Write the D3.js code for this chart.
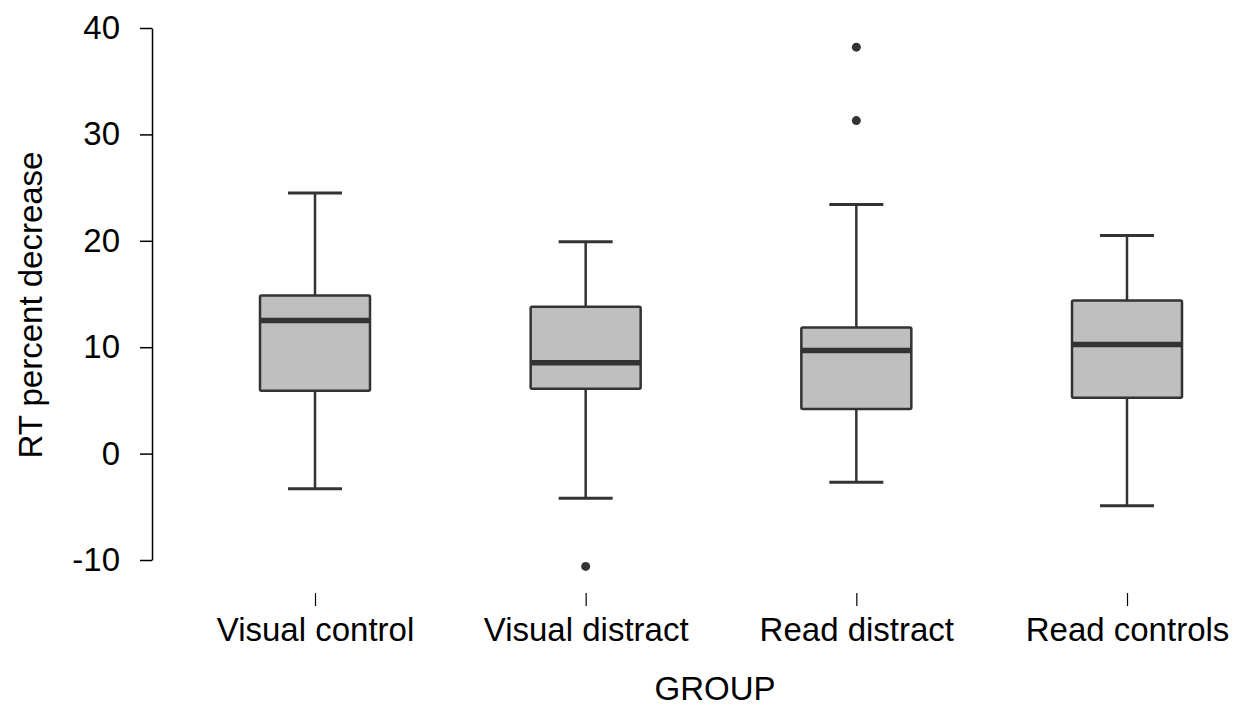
<!DOCTYPE html>
<html>
<head>
<meta charset="utf-8">
<script src="https://cdn.jsdelivr.net/npm/d3@7"></script>
<style>
	body{ margin: 0; background: #fff; }
	svg text{ font-family: "Liberation Sans", Arial, sans-serif; fill: #000; }
</style>
</head>
<body>
<div id="chart"></div>
<script>
	// values
	const groups = ['Visual control', 'Visual distract', 'Read distract', 'Read controls'];
	const whiskerLow = [-3.3, -4.2, -2.7, -4.9];
	const q1 = [5.9, 6.1, 4.2, 5.25];
	const median = [12.5, 8.55, 9.7, 10.25];
	const q3 = [14.85, 13.8, 11.85, 14.4];
	const whiskerHigh = [24.5, 19.9, 23.4, 20.5];
	const outliers = [[], [-10.6], [38.2, 31.3], []];
	const yTicks = [-10, 0, 10, 20, 30, 40];

	const W = 1239, H = 707;
	const boxW = 110, capW = 54;
	const fs = '33px';

	const svg = d3.select('#chart').append('svg')
		.attr('width', W).attr('height', H);

	const y = d3.scaleLinear().domain([-10, 40]).range([560, 28]);
	const x = d3.scalePoint().domain(groups).range([315, 1127]);

	// y axis (plain hyphen for negatives, like the original)
	const gy = svg.append('g')
		.attr('transform', 'translate(152,0)')
		.call(d3.axisLeft(y).tickValues(yTicks).tickFormat(d => String(d))
			.tickSizeInner(12).tickSizeOuter(0).tickPadding(20));
	gy.select('.domain').attr('stroke', '#000').attr('stroke-width', 1.5);
	gy.selectAll('.tick line').attr('stroke', '#000').attr('stroke-width', 1.5);
	gy.selectAll('.tick text').style('font-size', fs).attr('font-family', null);

	// x axis
	const gx = svg.append('g')
		.attr('transform', 'translate(0,593)')
		.call(d3.axisBottom(x).tickSizeInner(13).tickSizeOuter(0).tickPadding(12));
	gx.select('.domain').remove();
	gx.selectAll('.tick line').attr('stroke', '#000').attr('stroke-width', 1.2);
	gx.selectAll('.tick text').style('font-size', fs).attr('font-family', null);

	svg.append('text')
		.attr('x', 715).attr('y', 700)
		.attr('text-anchor', 'middle')
		.style('font-size', fs)
		.text('GROUP');

	svg.append('text')
		.attr('transform', 'translate(42,305) rotate(-90)')
		.attr('text-anchor', 'middle')
		.style('font-size', fs)
		.text('RT percent decrease');

	const col = '#333';
	const boxes = svg.append('g').selectAll('g').data(groups).join('g');

	boxes.each(function(g, i){
		const s = d3.select(this), cx = x(g);
		// whiskers
		s.append('line').attr('x1', cx).attr('x2', cx)
			.attr('y1', y(q3[i])).attr('y2', y(whiskerHigh[i]))
			.attr('stroke', col).attr('stroke-width', 2.5);
		s.append('line').attr('x1', cx).attr('x2', cx)
			.attr('y1', y(q1[i])).attr('y2', y(whiskerLow[i]))
			.attr('stroke', col).attr('stroke-width', 2.5);
		[whiskerHigh[i], whiskerLow[i]].forEach(v=>{
			s.append('line').attr('x1', cx - capW/2).attr('x2', cx + capW/2)
				.attr('y1', y(v)).attr('y2', y(v))
				.attr('stroke', col).attr('stroke-width', 3);
		});
		// box
		s.append('rect')
			.attr('x', cx - boxW/2).attr('width', boxW)
			.attr('y', y(q3[i])).attr('height', y(q1[i]) - y(q3[i]))
			.attr('fill', '#bfbfbf').attr('stroke', col).attr('stroke-width', 2.5)
			.attr('rx', 1.5);
		s.append('line').attr('x1', cx - boxW/2).attr('x2', cx + boxW/2)
			.attr('y1', y(median[i])).attr('y2', y(median[i]))
			.attr('stroke', col).attr('stroke-width', 5.5);
		// outliers
		s.selectAll('circle').data(outliers[i]).join('circle')
			.attr('cx', cx).attr('cy', d => y(d)).attr('r', 4.5)
			.attr('fill', col);
	});
</script>
</body>
</html>
